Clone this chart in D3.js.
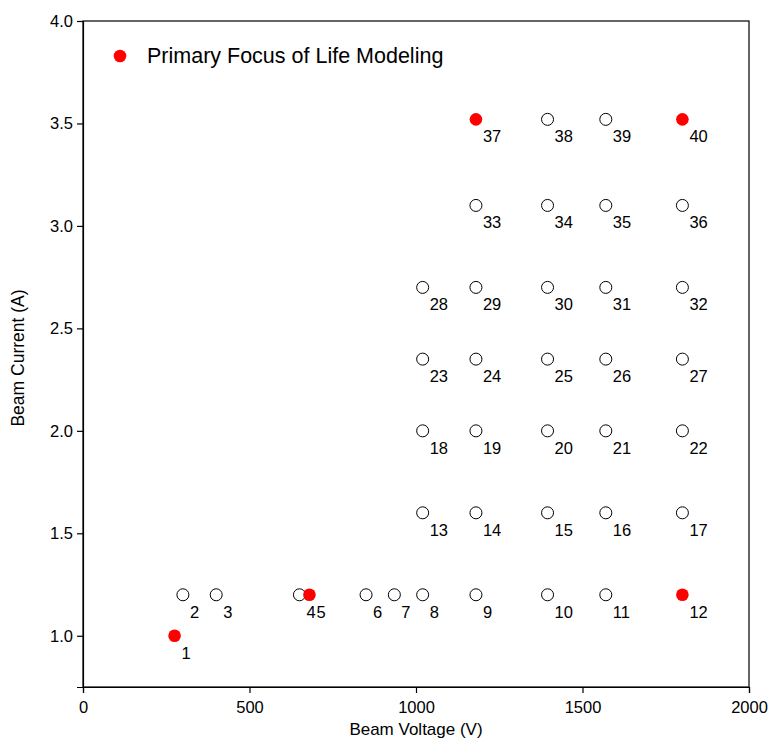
<!DOCTYPE html>
<html>
<head>
<meta charset="utf-8">
<script src="https://cdn.jsdelivr.net/npm/d3@7"></script>
<style>
  html, body { margin: 0; padding: 0; background: #fff; }
  svg { display: block; font-family: "Liberation Sans", Arial, Helvetica, sans-serif; }
</style>
</head>
<body>
<svg id="chart" width="769" height="738"></svg>
<script>
// Test point data
const pointIds   = [1, 2, 3, 4, 5, 6, 7, 8, 9, 10, 11, 12,
                    13, 14, 15, 16, 17,
                    18, 19, 20, 21, 22,
                    23, 24, 25, 26, 27,
                    28, 29, 30, 31, 32,
                    33, 34, 35, 36,
                    37, 38, 39, 40];
const voltages   = [275, 300, 400, 650, 680, 850, 935, 1020, 1180, 1395, 1570, 1800,
                    1020, 1180, 1395, 1570, 1800,
                    1020, 1180, 1395, 1570, 1800,
                    1020, 1180, 1395, 1570, 1800,
                    1020, 1180, 1395, 1570, 1800,
                    1180, 1395, 1570, 1800,
                    1180, 1395, 1570, 1800];
const currents   = [1.0, 1.2, 1.2, 1.2, 1.2, 1.2, 1.2, 1.2, 1.2, 1.2, 1.2, 1.2,
                    1.6, 1.6, 1.6, 1.6, 1.6,
                    2.0, 2.0, 2.0, 2.0, 2.0,
                    2.35, 2.35, 2.35, 2.35, 2.35,
                    2.7, 2.7, 2.7, 2.7, 2.7,
                    3.1, 3.1, 3.1, 3.1,
                    3.52, 3.52, 3.52, 3.52];
const primaryFocus = [1, 5, 12, 37, 40];

const xTicks = [0, 500, 1000, 1500, 2000];
const yTicks = [1.0, 1.5, 2.0, 2.5, 3.0, 3.5, 4.0];
const legendLabel = "Primary Focus of Life Modeling";
const xTitle = "Beam Voltage (V)";
const yTitle = "Beam Current (A)";

const points = pointIds.map((id, i) => ({
  id, v: voltages[i], c: currents[i], primary: primaryFocus.includes(id)
}));

const svg = d3.select("#chart");
const pL = 83, pR = 749, pT = 21, pB = 687;

const x = d3.scaleLinear().domain([0, 2000]).range([pL, pR]);
const y = d3.scaleLinear().domain([0.75, 4.0]).range([pB, pT]);

// frame
svg.append("rect")
  .attr("x", pL).attr("y", pT)
  .attr("width", pR - pL).attr("height", pB - pT)
  .attr("fill", "none").attr("stroke", "#000").attr("stroke-width", 1.2);

// axes
const xAxis = svg.append("g")
  .attr("transform", `translate(0,${pB})`)
  .call(d3.axisBottom(x).tickValues(xTicks).tickFormat(d3.format("d")).tickSizeOuter(0).tickSize(6).tickPadding(8));
const yAxis = svg.append("g")
  .attr("transform", `translate(${pL},0)`)
  .call(d3.axisLeft(y).tickValues(yTicks).tickFormat(d3.format(".1f")).tickSizeOuter(0).tickSize(6).tickPadding(4));

[xAxis, yAxis].forEach(g => {
  g.select(".domain").attr("stroke", "#000").attr("stroke-width", 1.2);
  g.selectAll(".tick line").attr("stroke", "#000").attr("stroke-width", 1.2);
  g.selectAll(".tick text")
    .attr("fill", "#000")
    .style("font-size", "16.5px")
    .style("font-family", "'Liberation Sans', Arial, sans-serif");
});

// axis titles
svg.append("text")
  .attr("x", (pL + pR) / 2).attr("y", 735)
  .attr("text-anchor", "middle")
  .style("font-size", "17px")
  .text(xTitle);
svg.append("text")
  .attr("transform", `translate(24,${(pT + pB) / 2 + 4}) rotate(-90)`)
  .attr("text-anchor", "middle")
  .style("font-size", "17.5px")
  .text(yTitle);

// points
const g = svg.append("g");
g.selectAll("circle.pt")
  .data(points)
  .join("circle")
  .attr("class", "pt")
  .attr("cx", d => x(d.v))
  .attr("cy", d => y(d.c))
  .attr("r", d => d.primary ? 6.3 : 6)
  .attr("fill", d => d.primary ? "#ff0000" : "#fff")
  .attr("stroke", d => d.primary ? "none" : "#000")
  .attr("stroke-width", 1);

g.selectAll("circle.pt").filter(d => d.primary).raise();

// labels
svg.append("g").selectAll("text")
  .data(points)
  .join("text")
  .attr("x", d => x(d.v) + 7)
  .attr("y", d => y(d.c) + 23)
  .style("font-size", "16.5px")
  .attr("fill", "#000")
  .text(d => d.id);

// legend
svg.append("circle")
  .attr("cx", 120).attr("cy", 56).attr("r", 6.3)
  .attr("fill", "#ff0000");
svg.append("text")
  .attr("x", 147).attr("y", 63)
  .style("font-size", "21.5px")
  .attr("fill", "#000")
  .text(legendLabel);
</script>
</body>
</html>
